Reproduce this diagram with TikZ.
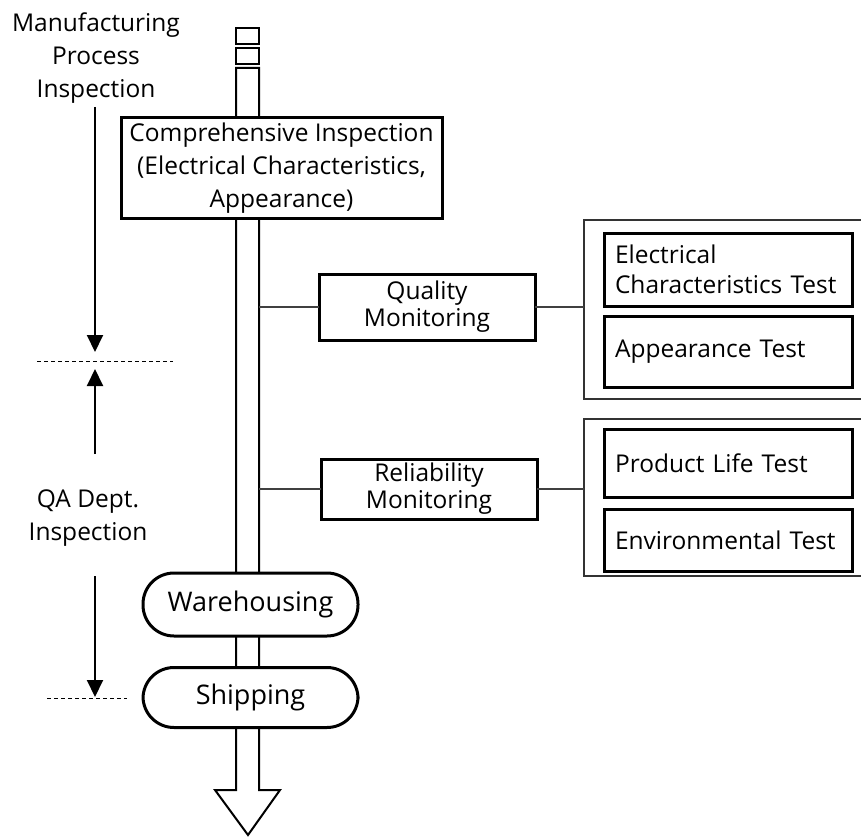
\documentclass[tikz,border=0pt]{standalone}
\usepackage{fontspec}
\setmainfont{Open Sans}
\usetikzlibrary{arrows.meta}
\begin{document}
\begin{tikzpicture}[x=1pt, y=-1pt,
  every node/.style={inner sep=0pt, outer sep=0pt},
  lbl/.style={align=center, font=\fontsize{24.5}{33}\selectfont},
  thickbox/.style={draw, line width=3pt, fill=white, align=center},
  pill/.style={draw, line width=3pt, fill=white, rounded corners=31pt,
    font=\fontsize{27}{32}\selectfont},
  monbox/.style={thickbox, font=\fontsize{24.5}{27}\selectfont},
  testbox/.style={draw, line width=3pt, fill=white, align=left,
    text width=226pt, inner xsep=11pt, font=\fontsize{24.5}{30}\selectfont},
  groupbox/.style={draw=black!80, line width=1.2pt},
  link/.style={draw=black!75, line width=1.1pt},
  shaft/.style={line width=2pt, line join=miter},
  dimarrow/.style={line width=2pt, -{Triangle[width=16pt,length=17pt]}},
  divider/.style={line width=1pt, dash pattern=on 4pt off 3pt}]

\useasboundingbox (0,0) rectangle (861,837);

% process shaft with its arrow head
\draw[shaft] (236,68) -- (259,68) -- (259,790) -- (280,790) -- (248,835)
  -- (215,790) -- (236,790) -- cycle;
\draw[shaft] (236,28) rectangle (259,44);
\draw[shaft] (236,48) rectangle (259,64);
\coordinate (shaftR) at (259,0);

% steps on the shaft
\node[thickbox, lbl, minimum width=321, minimum height=100] (comp) at (281.5,168)
  {Comprehensive Inspection\\(Electrical Characteristics,\\Appearance)};
\node[pill, minimum width=215, minimum height=63] (wh) at (250.5,604.5) {Warehousing};
\node[pill, minimum width=215, minimum height=60] (ship) at (250.5,697.5) {Shipping};

% monitoring branches
\node[monbox, minimum width=216, minimum height=66] (qm) at (427,307)
  {Quality\\Monitoring};
\node[monbox, minimum width=216, minimum height=60] (rm) at (429,489)
  {Reliability\\Monitoring};

\node[groupbox, minimum width=282, minimum height=179] (qg) at (725,309.5) {};
\node[groupbox, minimum width=282, minimum height=157] (rg) at (725,497.5) {};

\node[testbox, minimum height=73] (elec) at (728,269.5)
  {Electrical\\Characteristics Test};
\node[testbox, minimum height=71] (app) at (728,351.5) {Appearance Test};
\node[testbox, minimum height=68] (life) at (728,463) {Product Life Test};
\node[testbox, minimum height=62] (env) at (728,540) {Environmental Test};

\draw[link] (qm.west) -- (qm.west -| shaftR);
\draw[link] (qm.east) -- (qm.east -| qg.west);
\draw[link] (rm.west) -- (rm.west -| shaftR);
\draw[link] (rm.east) -- (rm.east -| rg.west);

% inspection ranges on the left
\node[lbl] (mfg) at (96,58) {Manufacturing\\Process\\Inspection};
\node[lbl] (qa) at (88,518) {QA Dept.\\Inspection};

\coordinate (a1s) at (95,107);
\coordinate (a1e) at (95,352);
\coordinate (a2s) at (95,454);
\coordinate (a2e) at (95,369);
\coordinate (a3s) at (95,576);
\coordinate (a3e) at (95,697);
\draw[dimarrow] (a1s) -- (a1e);
\draw[dimarrow] (a2s) -- (a2e);
\draw[dimarrow] (a3s) -- (a3e);

\coordinate (d1l) at (37,361);
\coordinate (d1r) at (173,361);
\coordinate (d2l) at (47,698);
\coordinate (d2r) at (127,698);
\draw[divider] (d1l) -- (d1r);
\draw[divider] (d2l) -- (d2r);

\end{tikzpicture}
\end{document}
